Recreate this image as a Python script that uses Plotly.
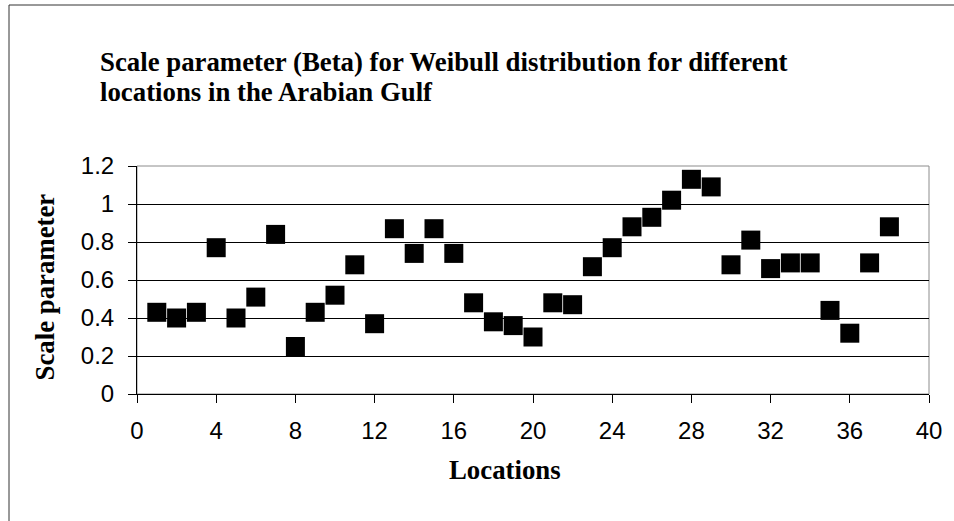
import plotly.graph_objects as go

locations = list(range(1, 39))
scale_param = [0.43, 0.40, 0.43, 0.77, 0.40, 0.51, 0.84, 0.25, 0.43, 0.52,
               0.68, 0.37, 0.87, 0.74, 0.87, 0.74, 0.48, 0.38, 0.36, 0.30,
               0.48, 0.47, 0.67, 0.77, 0.88, 0.93, 1.02, 1.13, 1.09, 0.68,
               0.81, 0.66, 0.69, 0.69, 0.44, 0.32, 0.69, 0.88]

title_lines = ["Scale parameter (Beta) for Weibull distribution for different",
               "locations in the Arabian Gulf"]
x_title = "Locations"
y_title = "Scale parameter"
x_ticks = [0, 4, 8, 12, 16, 20, 24, 28, 32, 36, 40]
y_ticks = [0, 0.2, 0.4, 0.6, 0.8, 1, 1.2]

W, H = 954, 521
L, R, T, B = 137, 25, 166, 127
pw, ph = W - L - R, H - T - B

def px(xp):
    return (xp - L) / pw

def py(yp):
    return (H - B - yp) / ph

serif = "Liberation Serif, Times New Roman, serif"
sans = "Liberation Sans, Arial, sans-serif"

fig = go.Figure()
fig.add_trace(go.Scatter(
    x=locations, y=scale_param, mode="markers",
    marker=dict(symbol="square", size=19, color="black", line=dict(width=0)),
    showlegend=False, cliponaxis=False,
))

fig.update_layout(
    width=W, height=H,
    margin=dict(l=L, r=R, t=T, b=B, pad=0),
    paper_bgcolor="white", plot_bgcolor="white",
    font=dict(family=sans, size=24, color="black"),
    xaxis=dict(range=[0, 40], tickvals=x_ticks, ticks="outside", ticklen=8,
               tickcolor="black", showline=True, linecolor="black", linewidth=1,
               showgrid=False, zeroline=False, tickfont=dict(size=24),
               ticklabelstandoff=7),
    yaxis=dict(range=[0, 1.2], tickvals=y_ticks, ticks="outside", ticklen=8,
               tickcolor="black", showline=True, linecolor="black", linewidth=1,
               showgrid=True, gridcolor="black", gridwidth=1, zeroline=False,
               tickfont=dict(size=24), ticklabelstandoff=9),
)

# plot area border (gray)
fig.add_shape(type="rect", xref="paper", yref="paper", x0=0, x1=1, y0=0, y1=1,
              line=dict(color="#8c8c8c", width=1), layer="below")
# outer chart border (clipped by image edge)
fig.add_shape(type="line", xref="paper", yref="paper", x0=px(9), x1=px(9),
              y0=py(5), y1=py(600), line=dict(color="#333333", width=1))
fig.add_shape(type="line", xref="paper", yref="paper", x0=px(9), x1=px(1100),
              y0=py(5), y1=py(5), line=dict(color="#333333", width=1))

fig.add_annotation(text="<b>" + title_lines[0] + "</b>", xref="paper", yref="paper",
                   x=px(98), y=py(61.5), xanchor="left", yanchor="middle",
                   showarrow=False, font=dict(family=serif, size=26.8, color="black"))
fig.add_annotation(text="<b>" + title_lines[1] + "</b>", xref="paper", yref="paper",
                   x=px(98), y=py(92), xanchor="left", yanchor="middle",
                   showarrow=False, font=dict(family=serif, size=26.8, color="black"))
fig.add_annotation(text="<b>" + x_title + "</b>", xref="paper", yref="paper",
                   x=px(505), y=py(470), xanchor="center", yanchor="middle",
                   showarrow=False, font=dict(family=serif, size=26.8, color="black"))
fig.add_annotation(text="<b>" + y_title + "</b>", xref="paper", yref="paper",
                   x=px(44), y=py(287.5), xanchor="center", yanchor="middle",
                   textangle=-90, showarrow=False,
                   font=dict(family=serif, size=26.8, color="black"))

fig.write_html("out.html",
               config={"displayModeBar": False},
               post_script="document.body.style.margin='0';"
                           "document.body.style.overflow='hidden';")
